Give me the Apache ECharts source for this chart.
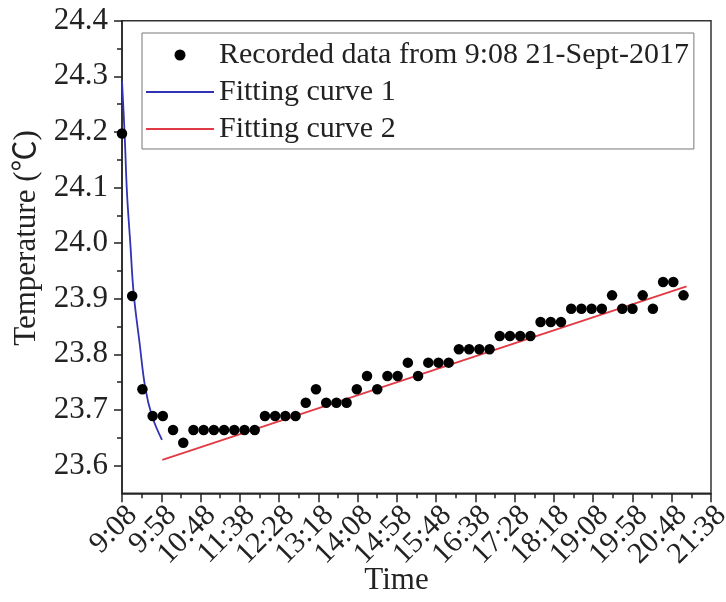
<!DOCTYPE html>
<html>
<head>
<meta charset="utf-8">
<script src="https://cdn.jsdelivr.net/npm/echarts@6/dist/echarts.min.js"></script>
<style>html,body{margin:0;padding:0;background:#fff}#c{width:726px;height:602px}</style>
</head>
<body>
<div id="c"></div>
<script>
// minutes after 9:08
const recTimes = [0,13,26,39,52,65,78,91,104,117,130,143,156,169,182,195,208,221,234,247,260,273,286,299,312,325,338,351,364,377,390,403,416,429,442,455,468,481,494,507,520,533,546,559,572,585,598,611,624,637,650,663,676,689,702,715];
const recTemps = [24.197,23.905,23.737,23.689,23.689,23.664,23.641,
  23.664,23.664,23.664,23.664,23.664,23.664,23.664,
  23.689,23.689,23.689,23.689,23.713,23.737,23.713,23.713,23.713,23.737,
  23.761,23.737,23.761,23.761,23.785,23.761,23.785,23.785,23.785,
  23.809,23.809,23.809,23.809,23.833,23.833,23.833,23.833,
  23.858,23.858,23.858,23.882,23.882,23.882,23.882,23.906,23.882,23.882,23.906,23.882,23.930,23.930,23.906];
const fit1Times = [0,3.4,6.4,10.6,14.9,22.5,29.7,38.2,50.9];
const fit1Temps = [24.292,24.194,24.089,23.999,23.909,23.819,23.739,23.689,23.646];
const fit2Times = [51.4,718.9];
const fit2Temps = [23.610,23.922];
const yMajorTicks = [23.6,23.7,23.8,23.9,24.0,24.1,24.2,24.3,24.4];
const yMinorTicks = [23.65,23.75,23.85,23.95,24.05,24.15,24.25,24.35];
// x tick labels (minutes after 9:08), split into two sets so none is auto-hidden
const xLabelsA = [0,100,200,300,400,500,600,700];
const xLabelsB = [50,150,250,350,450,550,650,750];
const xStartMinutes = 9*60+8;
const legendNames = ['Recorded data from 9:08 21-Sept-2017','Fitting curve 1','Fitting curve 2'];

function zip(a,b){return a.map((v,i)=>[v,b[i]]);}
function fmtTime(v){const m=Math.round(xStartMinutes+v);return Math.floor(m/60)+':'+String(m%60).padStart(2,'0');}

const FONT = "'Liberation Serif','Times New Roman','Noto Sans CJK SC',serif";
const labelStyle = {rotate:45,margin:7,verticalAlign:'top',fontFamily:FONT,fontSize:30,color:'#222',formatter:fmtTime};
const chart = echarts.init(document.getElementById('c'));
chart.setOption({
  animation:false,
  backgroundColor:'#fff',
  grid:{left:122,right:15,top:20.7,bottom:108.7,outerBoundsMode:'none',containLabel:false,show:true,borderColor:'#333',borderWidth:1.5,backgroundColor:'transparent'},
  legend:{
    orient:'vertical',left:142,top:33,
    data:[
      {name:legendNames[0]},
      {name:legendNames[1],itemStyle:{opacity:0}},
      {name:legendNames[2],itemStyle:{opacity:0}}
    ],
    itemWidth:68,itemHeight:11,itemGap:7,
    padding:[7,5,5,3],
    borderColor:'#777',borderWidth:1,backgroundColor:'#fff',
    textStyle:{fontFamily:FONT,fontSize:30,color:'#222'}
  },
  xAxis:[{
    type:'value',min:0,max:750,interval:50,
    name:'Time',nameLocation:'middle',nameGap:72,nameMoveOverlap:false,
    nameTextStyle:{fontFamily:FONT,fontSize:31,color:'#222',padding:[0,40,0,0]},
    axisLine:{show:true,lineStyle:{color:'#222',width:1.5}},
    axisTick:{show:true,length:9,lineStyle:{color:'#222',width:1.5}},
    minorTick:{show:true,splitNumber:2,length:5,lineStyle:{color:'#222',width:1.5}},
    splitLine:{show:false},
    axisLabel:Object.assign({customValues:xLabelsA},labelStyle)
  },{
    type:'value',min:0,max:750,position:'bottom',offset:0,
    axisLine:{show:false},axisTick:{show:false},splitLine:{show:false},
    axisLabel:Object.assign({customValues:xLabelsB},labelStyle)
  }],
  yAxis:[{
    type:'value',min:23.55,max:24.4,
    name:'Temperature (℃)',nameLocation:'middle',nameGap:80,nameRotate:90,
    nameTextStyle:{fontFamily:FONT,fontSize:31,color:'#222',padding:[0,0,0,38]},
    axisLine:{show:true,lineStyle:{color:'#222',width:1.5}},
    axisTick:{show:true,length:8,customValues:yMajorTicks,lineStyle:{color:'#222',width:1.5}},
    splitLine:{show:false},
    axisLabel:{customValues:yMajorTicks,margin:14,fontFamily:FONT,fontSize:31,color:'#222',formatter:v=>v.toFixed(1)}
  },{
    type:'value',min:23.55,max:24.4,position:'left',offset:0,
    axisLine:{show:false},
    axisTick:{show:true,length:5,customValues:yMinorTicks,lineStyle:{color:'#222',width:1.5}},
    axisLabel:{show:false},splitLine:{show:false}
  }],
  series:[{
    name:legendNames[0],type:'scatter',symbol:'circle',symbolSize:10.5,
    itemStyle:{color:'#000',opacity:1},
    data:zip(recTimes,recTemps),z:3
  },{
    name:legendNames[1],type:'line',symbol:'none',smooth:0.4,
    lineStyle:{color:'#3232b4',width:1.8},itemStyle:{color:'#3232b4'},
    data:zip(fit1Times,fit1Temps),z:2
  },{
    name:legendNames[2],type:'line',symbol:'none',
    lineStyle:{color:'#e23a44',width:1.8},itemStyle:{color:'#e23a44'},
    data:zip(fit2Times,fit2Temps),z:2
  }]
});
</script>
</body>
</html>
